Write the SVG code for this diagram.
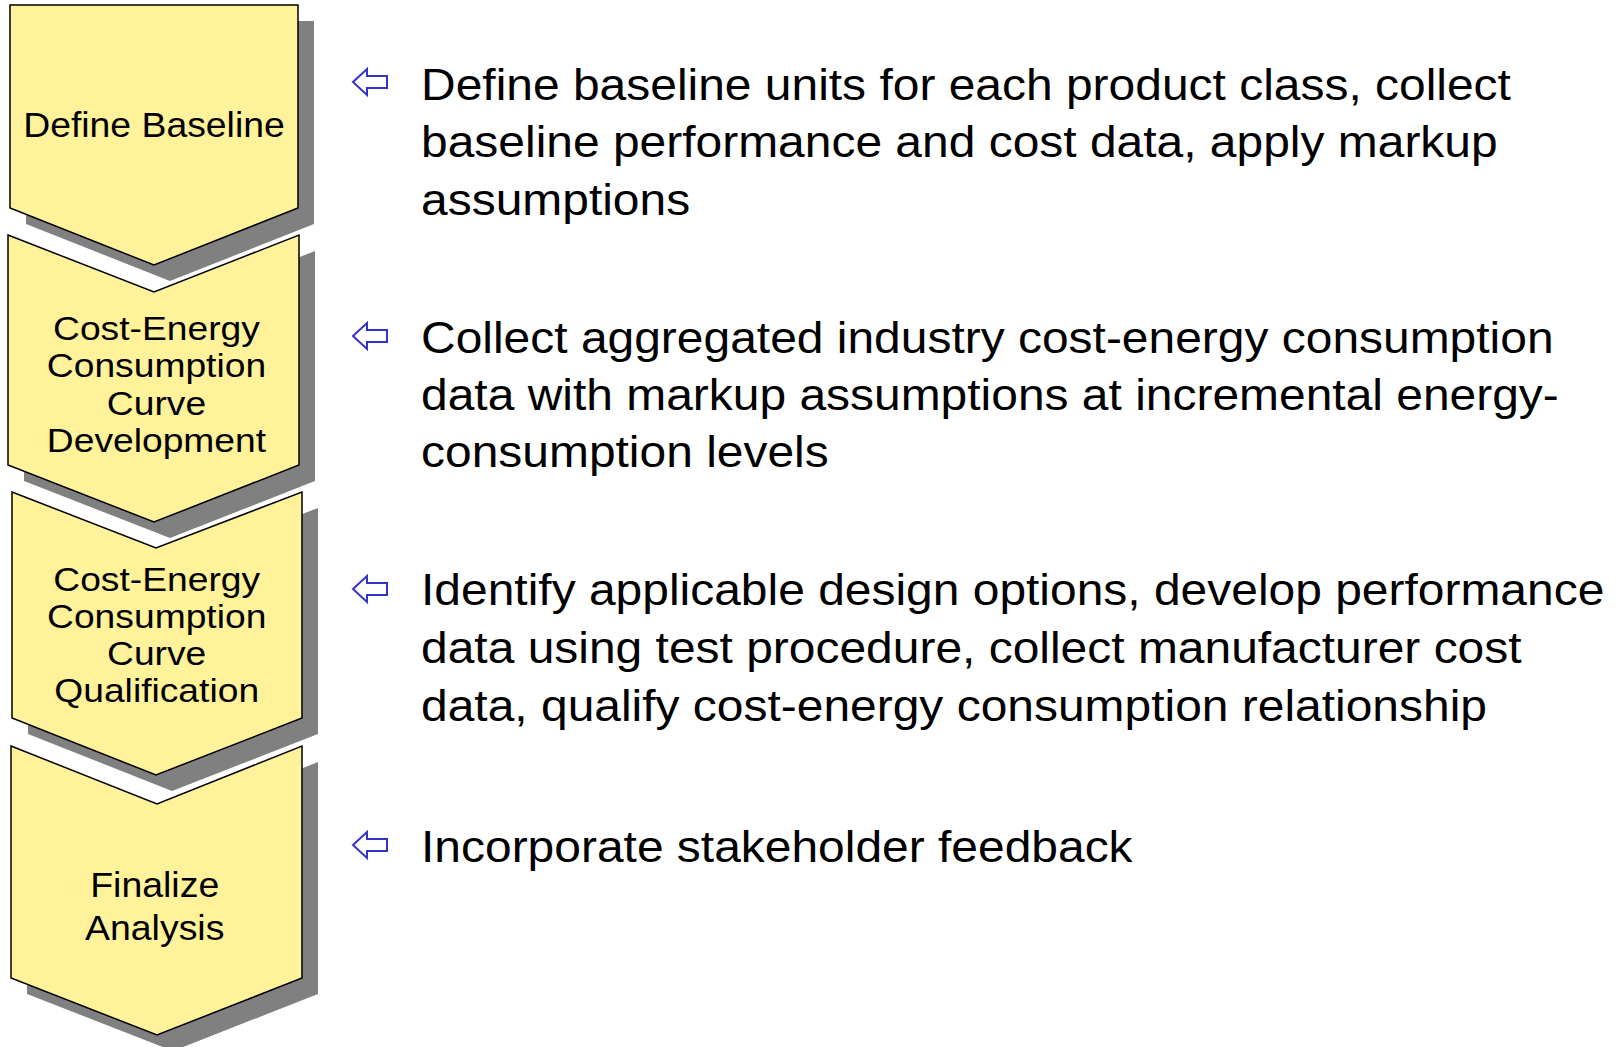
<svg xmlns="http://www.w3.org/2000/svg" xmlns:xlink="http://www.w3.org/1999/xlink" width="1620" height="1047" viewBox="0 0 1620 1047">
<style>
.shape{fill:#FFF29A;stroke:#000;stroke-width:1.5;stroke-linejoin:miter}
.shadow{fill:#808080}
.lbl{font-family:"Liberation Sans",Arial,sans-serif;fill:#000;text-anchor:middle}
.desc{font-family:"Liberation Sans",Arial,sans-serif;fill:#000;font-size:44.7px}
.arr{fill:#fff;stroke:#3333CC;stroke-width:2;stroke-linejoin:miter}
</style>
<defs>
<path id="arrow" class="arr" d="M0,0 L14,-13 L14,-6 L34,-6 L34,6 L14,6 L14,13 Z"/>
</defs>
<rect width="1620" height="1047" fill="#fff"/>
<g id="step1">
<polygon class="shadow" points="26,21 314,21 314,224 170,281 26,224"/>
<polygon class="shape" points="10,5 298,5 298,208 154,265 10,208"/>
<text class="lbl" font-size="35" transform="scale(1.067,1)" x="144.3" y="137">Define Baseline</text>
</g>
<g id="step2">
<polygon class="shadow" points="24,251 170,308 315,251 315,481 170,538 24,481"/>
<polygon class="shape" points="8,235 154,292 299,235 299,465 154,522 8,465"/>
<g transform="scale(1.095,1)" class="lbl" font-size="34">
<text x="142.9" y="340">Cost-Energy</text>
<text x="142.9" y="377">Consumption</text>
<text x="142.9" y="415">Curve</text>
<text x="142.9" y="452">Development</text>
</g>
</g>
<g id="step3">
<polygon class="shadow" points="28,508 172,564 318,508 318,734 172,791 28,734"/>
<polygon class="shape" points="12,492 156,548 302,492 302,718 156,775 12,718"/>
<g transform="scale(1.095,1)" class="lbl" font-size="34">
<text x="143.1" y="591">Cost-Energy</text>
<text x="143.1" y="628">Consumption</text>
<text x="143.1" y="665">Curve</text>
<text x="143.1" y="702">Qualification</text>
</g>
</g>
<g id="step4">
<polygon class="shadow" points="27,762 173,820 318,762 318,994 173,1051 27,994"/>
<polygon class="shape" points="11,746 157,804 302,746 302,978 157,1035 11,978"/>
<g transform="scale(1.07,1)" class="lbl" font-size="35">
<text x="144.6" y="897">Finalize</text>
<text x="144.6" y="940">Analysis</text>
</g>
</g>
<g id="desc1">
<use xlink:href="#arrow" href="#arrow" x="353" y="82"/>
<g transform="scale(1.0727,1)" class="desc">
<text x="392.5" y="100">Define baseline units for each product class, collect</text>
<text x="392.5" y="157">baseline performance and cost data, apply markup</text>
<text x="392.5" y="215">assumptions</text>
</g>
</g>
<g id="desc2">
<use xlink:href="#arrow" href="#arrow" x="353" y="336"/>
<g transform="scale(1.0727,1)" class="desc">
<text x="392.5" y="353">Collect aggregated industry cost-energy consumption</text>
<text x="392.5" y="410">data with markup assumptions at incremental energy-</text>
<text x="392.5" y="467">consumption levels</text>
</g>
</g>
<g id="desc3">
<use xlink:href="#arrow" href="#arrow" x="353" y="589"/>
<g transform="scale(1.0727,1)" class="desc">
<text x="392.5" y="605">Identify applicable design options, develop performance</text>
<text x="392.5" y="663">data using test procedure, collect manufacturer cost</text>
<text x="392.5" y="721">data, qualify cost-energy consumption relationship</text>
</g>
</g>
<g id="desc4">
<use xlink:href="#arrow" href="#arrow" x="353" y="845"/>
<g transform="scale(1.0727,1)" class="desc">
<text x="392.5" y="862">Incorporate stakeholder feedback</text>
</g>
</g>
<g id="connectors"></g>
</svg>
